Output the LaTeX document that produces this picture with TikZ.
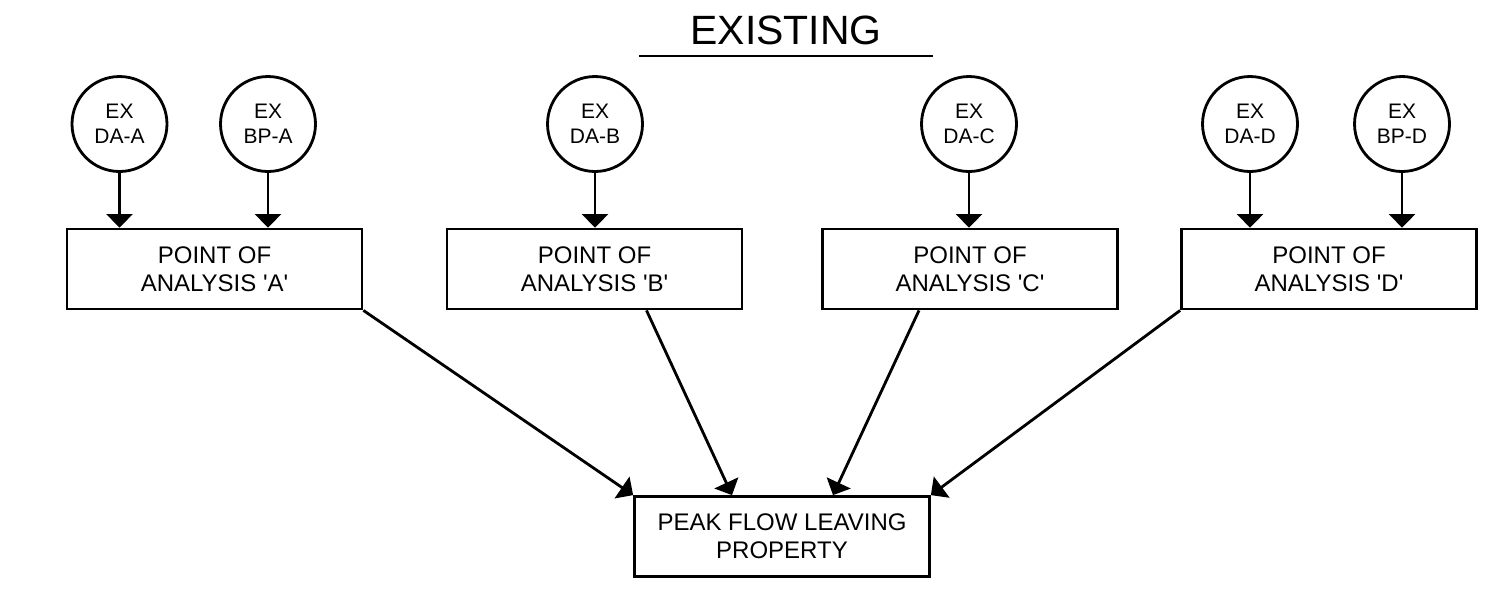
\documentclass[tikz,border=0pt]{standalone}
\usepackage{fontspec}
\setmainfont{Liberation Sans}
\usetikzlibrary{arrows.meta,calc}

\tikzstyle{block} = [draw, rectangle, line width=1.6pt, align=center,
                     minimum width=5.9cm, minimum height=1.6cm,
                     font=\fontsize{13.66pt}{15.9pt}\selectfont]
\tikzstyle{basin} = [draw, circle, line width=1.6pt, align=center,
                     minimum size=1.9cm, inner sep=0pt,
                     font=\fontsize{11.95pt}{14.2pt}\selectfont]
\tikzstyle{flow} = [line width=1.6pt, -{Triangle[length=0.27cm,width=0.52cm]}]

\begin{document}
\begin{tikzpicture} [x=0.02cm, y=-0.02cm]

\useasboundingbox (0,0) rectangle (1486,600);

\node at (786,56)[anchor=south,inner xsep=0pt,inner ysep=0.22cm,
                  text depth=0pt,minimum width=5.86cm,
                  font=\fontsize{23.3pt}{28pt}\selectfont]
                  (ttl) {EXISTING};
\draw[line width=1.6pt] (ttl.south west) -- (ttl.south east);

\node at (214.5,269)[block] (pA) {POINT OF\\ANALYSIS \textquotesingle A\textquotesingle};
\node at (594.5,269)[block] (pB) {POINT OF\\ANALYSIS \textquotesingle B\textquotesingle};
\node at (970,269)[block] (pC) {POINT OF\\ANALYSIS \textquotesingle C\textquotesingle};
\node at (1329,269)[block] (pD) {POINT OF\\ANALYSIS \textquotesingle D\textquotesingle};

\node at (782,536.5)[block] (pk) {PEAK FLOW LEAVING\\PROPERTY};

\node at (119.5,124)[basin] (daA) {EX\\DA-A};
\node at (268,124)[basin] (bpA) {EX\\BP-A};
\node at (595,124)[basin] (daB) {EX\\DA-B};
\node at (969,124)[basin] (daC) {EX\\DA-C};
\node at (1250,124)[basin] (daD) {EX\\DA-D};
\node at (1402,124)[basin] (bpD) {EX\\BP-D};

\draw[flow] (daA) -- (daA |- pA.north);
\draw[flow] (bpA) -- (bpA |- pA.north);
\draw[flow] (daB) -- (daB |- pB.north);
\draw[flow] (daC) -- (daC |- pC.north);
\draw[flow] (daD) -- (daD |- pD.north);
\draw[flow] (bpD) -- (bpD |- pD.north);

\draw[flow] (pA.south east) -- (pk.north west);
\draw[flow] ($(pB.south)+(52,0)$) -- ($(pk.north)+(-50,0)$);
\draw[flow] ($(pC.south)+(-51,0)$) -- ($(pk.north)+(51,0)$);
\draw[flow] (pD.south west) -- (pk.north east);

\end{tikzpicture}
\end{document}
